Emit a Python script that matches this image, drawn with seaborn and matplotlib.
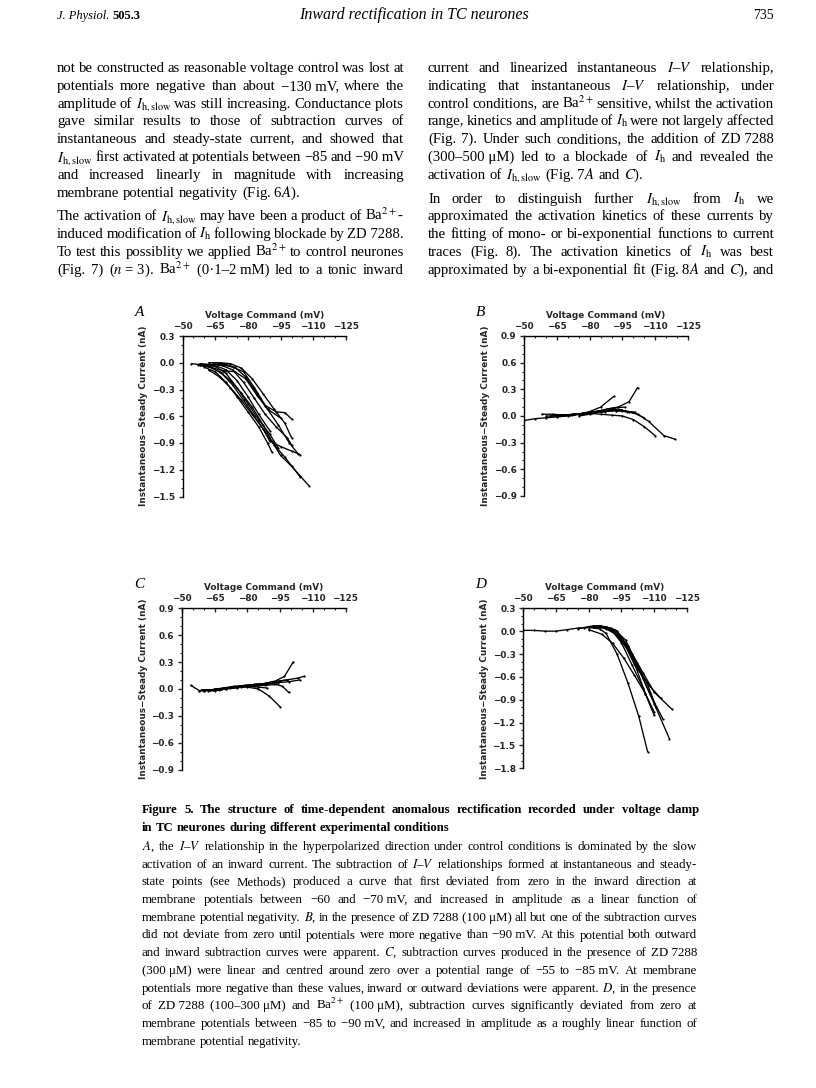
import matplotlib
matplotlib.use("Agg")
import matplotlib.pyplot as plt
import numpy as np
import pandas as pd
import seaborn as sns

W, H = 816, 1088

# ---------------- panel data (voltage command mV, inst - steady current nA) ----------------
A_V = [
    [-57, -62, -67, -72, -77, -82, -87, -91, -95, -100, -104, -108],
    [-58, -63, -68, -73, -78, -83, -88, -92, -97, -104],
    [-60, -65, -70, -75, -80, -85, -89, -91],
    [-62, -67, -72, -77, -82, -87, -90, -95, -100, -104],
    [-58, -63, -68, -73, -78, -83, -88, -93, -97, -100],
    [-62, -67, -72, -77, -82, -87, -92, -97, -100],
    [-63, -68, -73, -78, -83, -88, -93, -98, -100],
    [-60, -65, -70, -75, -80, -85, -90, -94],
    [-59, -64, -69, -74, -79, -84, -89, -95],
    [-54, -58, -62, -66, -70, -75, -80, -85, -90],
    [-64, -69, -74, -79, -84, -89, -94, -99, -103],
]
A_I = [
    [-0.02, -0.04, -0.10, -0.20, -0.34, -0.50, -0.70, -0.88, -1.04, -1.16, -1.27, -1.38],
    [-0.03, -0.05, -0.12, -0.25, -0.42, -0.60, -0.78, -0.92, -1.06, -1.28],
    [-0.05, -0.10, -0.22, -0.38, -0.55, -0.72, -0.90, -1.00],
    [-0.08, -0.16, -0.28, -0.42, -0.58, -0.74, -0.88, -0.94, -0.99, -1.03],
    [-0.01, -0.02, -0.02, -0.05, -0.10, -0.28, -0.48, -0.55, -0.56, -0.63],
    [0.00, 0.00, -0.01, -0.06, -0.18, -0.35, -0.52, -0.68, -0.84],
    [-0.02, -0.03, -0.08, -0.22, -0.40, -0.58, -0.72, -0.84, -0.92],
    [-0.02, -0.04, -0.12, -0.28, -0.46, -0.64, -0.80, -0.96],
    [-0.03, -0.06, -0.09, -0.10, -0.18, -0.36, -0.52, -0.62],
    [-0.01, -0.02, -0.03, -0.04, -0.08, -0.20, -0.38, -0.58, -0.76],
    [0.00, -0.01, -0.05, -0.16, -0.34, -0.52, -0.70, -0.90, -1.02],
]

B_V = [
    [-50, -55, -60, -65, -70, -75, -80, -85, -91],
    [-58, -63, -68, -73, -78, -83, -88, -93, -98, -102],
    [-60, -65, -70, -75, -80, -85, -90, -95, -100, -105, -110],
    [-62, -67, -72, -77, -82, -87, -92, -97, -102, -107, -114, -119],
    [-65, -70, -75, -80, -85, -90, -95, -100, -105],
    [-68, -73, -78, -83, -88, -93, -98, -101],
    [-72, -77, -82, -87, -92, -96],
    [-75, -80, -85, -90, -95],
    [-66, -71, -76, -81, -86, -91, -96],
]
B_I = [
    [-0.05, -0.03, -0.02, -0.01, 0.00, 0.02, 0.05, 0.10, 0.22],
    [0.02, 0.02, 0.01, 0.02, 0.03, 0.05, 0.08, 0.10, 0.16, 0.32],
    [0.00, 0.00, 0.01, 0.02, 0.03, 0.02, 0.01, 0.00, -0.04, -0.12, -0.22],
    [0.00, 0.01, 0.01, 0.03, 0.05, 0.06, 0.06, 0.05, 0.02, -0.06, -0.22, -0.26],
    [0.00, 0.01, 0.02, 0.04, 0.06, 0.07, 0.06, 0.04, -0.02],
    [0.01, 0.02, 0.03, 0.05, 0.07, 0.07, 0.05, 0.04],
    [0.02, 0.03, 0.04, 0.05, 0.06, 0.06],
    [0.00, 0.02, 0.05, 0.08, 0.07],
    [0.01, 0.01, 0.02, 0.03, 0.06, 0.09, 0.10],
]

C_V = [
    [-54, -58, -63, -68, -73, -78, -83, -88, -93, -97, -101],
    [-58, -63, -68, -73, -78, -83, -88, -93, -98, -103, -106],
    [-60, -65, -70, -75, -80, -85, -90, -95],
    [-62, -67, -72, -77, -82, -87, -92, -96, -99],
    [-59, -64, -69, -74, -79, -84, -89, -94, -99, -104],
    [-63, -68, -73, -78, -83, -88, -93],
    [-65, -70, -75, -80, -85, -90, -95, -98],
    [-60, -65, -70, -75, -80, -85, -89],
]
C_I = [
    [0.04, -0.02, -0.01, 0.00, 0.02, 0.03, 0.04, 0.06, 0.09, 0.14, 0.30],
    [-0.02, -0.01, 0.00, 0.02, 0.03, 0.05, 0.06, 0.08, 0.10, 0.12, 0.14],
    [-0.02, -0.02, 0.00, 0.02, 0.02, 0.00, -0.08, -0.20],
    [-0.02, -0.01, 0.01, 0.02, 0.04, 0.05, 0.06, 0.03, -0.04],
    [-0.01, -0.01, 0.01, 0.03, 0.04, 0.05, 0.06, 0.07, 0.08, 0.10],
    [-0.01, 0.00, 0.02, 0.03, 0.03, 0.04, 0.05],
    [0.00, 0.01, 0.02, 0.04, 0.05, 0.07, 0.09, 0.10],
    [-0.02, -0.01, 0.00, 0.01, 0.03, 0.02, 0.01],
]

D_V = [
    [-50, -55, -60, -65, -70, -75, -80, -85, -88, -93, -98, -103, -107],
    [-75, -80, -85, -90, -95, -100, -105, -110],
    [-78, -83, -88, -93, -98, -103, -108, -114],
    [-80, -85, -90, -95, -100, -105, -110, -117],
    [-80, -85, -90, -95, -100, -105, -110, -118],
    [-82, -87, -92, -97, -102, -106, -109],
    [-83, -88, -93, -98, -103, -108, -113],
    [-80, -86, -91, -96, -101, -106, -110],
    [-82, -87, -92, -97, -102, -107, -111],
]
D_I = [
    [0.01, 0.01, 0.00, 0.00, 0.02, 0.04, 0.05, 0.03, -0.03, -0.30, -0.68, -1.12, -1.58],
    [0.03, 0.06, 0.07, 0.03, -0.15, -0.45, -0.75, -1.10],
    [0.04, 0.06, 0.06, 0.00, -0.20, -0.50, -0.82, -1.15],
    [0.05, 0.07, 0.04, -0.08, -0.32, -0.62, -0.95, -1.41],
    [0.06, 0.07, 0.03, -0.10, -0.30, -0.55, -0.80, -1.02],
    [0.05, 0.05, -0.02, -0.20, -0.50, -0.82, -1.02],
    [0.06, 0.03, -0.05, -0.25, -0.52, -0.72, -0.88],
    [0.02, -0.04, -0.16, -0.35, -0.58, -0.82, -1.06],
    [0.07, 0.06, 0.02, -0.12, -0.42, -0.70, -1.00],
]

X_TICKS = [-50, -65, -80, -95, -110, -125]
A_YTICKS = [0.3, 0.0, -0.3, -0.6, -0.9, -1.2, -1.5]
B_YTICKS = [0.9, 0.6, 0.3, 0.0, -0.3, -0.6, -0.9]
C_YTICKS = [0.9, 0.6, 0.3, 0.0, -0.3, -0.6, -0.9]
D_YTICKS = [0.3, 0.0, -0.3, -0.6, -0.9, -1.2, -1.5, -1.8]

# ---------------- page text ----------------
# mathtext pieces (no spaces inside, lines are split on spaces)
IHS = "$I_{\\mathrm{h,slow}}$"
IH = "$I_{\\mathrm{h}}$"
BA = "Ba$^{2+}$"
IV = "$I$\u2013$V$"

LEFT_COL = [
    "not be constructed as reasonable voltage control was lost at",
    "potentials more negative than about \u2212130\u00a0mV, where the",
    "amplitude of " + IHS + " was still increasing. Conductance plots",
    "gave similar results to those of subtraction curves of",
    "instantaneous and steady-state current, and showed that",
    IHS + " first activated at potentials between \u221285 and \u221290\u00a0mV",
    "and increased linearly in magnitude with increasing",
    "membrane potential negativity (Fig.\u00a06$A$).",
    "The activation of " + IHS + " may have been a product of " + BA + "-",
    "induced modification of " + IH + " following blockade by ZD\u00a07288.",
    "To test this possiblity we applied " + BA + " to control neurones",
    "(Fig. 7) ($n$\u00a0=\u00a03). " + BA + " (0\u00b71\u20132\u00a0mM) led to a tonic inward",
]
RIGHT_COL = [
    "current and linearized instantaneous " + IV + " relationship,",
    "indicating that instantaneous " + IV + " relationship, under",
    "control conditions, are " + BA + " sensitive, whilst the activation",
    "range, kinetics and amplitude of " + IH + " were not largely affected",
    "(Fig. 7). Under such conditions, the addition of ZD\u00a07288",
    "(300\u2013500\u00a0\u03bcM) led to a blockade of " + IH + " and revealed the",
    "activation of " + IHS + " (Fig.\u00a07$A$ and $C$).",
    "In order to distinguish further " + IHS + " from " + IH + " we",
    "approximated the activation kinetics of these currents by",
    "the fitting of mono- or bi-exponential functions to current",
    "traces (Fig. 8). The activation kinetics of " + IH + " was best",
    "approximated by a bi-exponential fit (Fig.\u00a08$A$ and $C$), and",
]
CAPTION_TITLE = [
    "Figure 5. The structure of time-dependent anomalous rectification recorded under voltage clamp",
    "in TC neurones during different experimental conditions",
]
CAPTION = [
    "$A$, the " + IV + " relationship in the hyperpolarized direction under control conditions is dominated by the slow",
    "activation of an inward current. The subtraction of " + IV + " relationships formed at instantaneous and steady-",
    "state points (see Methods) produced a curve that first deviated from zero in the inward direction at",
    "membrane potentials between \u221260 and \u221270\u00a0mV, and increased in amplitude as a linear function of",
    "membrane potential negativity. $B$, in the presence of ZD\u00a07288 (100\u00a0\u03bcM) all but one of the subtraction curves",
    "did not deviate from zero until potentials were more negative than \u221290\u00a0mV. At this potential both outward",
    "and inward subtraction curves were apparent. $C$, subtraction curves produced in the presence of ZD\u00a07288",
    "(300\u00a0\u03bcM) were linear and centred around zero over a potential range of \u221255 to \u221285\u00a0mV. At membrane",
    "potentials more negative than these values, inward or outward deviations were apparent. $D$, in the presence",
    "of ZD\u00a07288 (100\u2013300\u00a0\u03bcM) and " + BA + " (100\u00a0\u03bcM), subtraction curves significantly deviated from zero at",
    "membrane potentials between \u221285 to \u221290\u00a0mV, and increased in amplitude as a roughly linear function of",
    "membrane potential negativity.",
]

sns.set_style("ticks")
plt.rcParams["font.family"] = ["DejaVu Sans"]
plt.rcParams["mathtext.fontset"] = "stix"

fig = plt.figure(figsize=(W / 100, H / 100), dpi=100)
renderer = fig.canvas.get_renderer()


def fx(x):
    return x / W


def fy(y):
    return 1 - y / H


def text_width(s, **kw):
    t = fig.text(0, 0, s, **kw)
    w = t.get_window_extent(renderer).width
    t.remove()
    return w


def put_line(text, x0, x1, y, justify=True, fontsize=10, **kw):
    words = text.split(" ")
    size = fontsize
    while True:
        widths = [text_width(w, fontsize=size, **kw) for w in words]
        space = text_width("x x", fontsize=size, **kw) - text_width("xx", fontsize=size, **kw)
        gap = space
        if justify and len(words) > 1:
            gap = (x1 - x0 - sum(widths)) / (len(words) - 1)
            if gap < 0.6 * space and size > 6:
                size -= 0.2
                continue
        break
    x = x0
    for w, wd in zip(words, widths):
        fig.text(fx(x), fy(y), w, ha="left", va="baseline", fontsize=size, **kw)
        x += wd + gap


serif = dict(family="Liberation Serif", color="black")

# header
fig.text(fx(57), fy(19), "J. Physiol.", style="italic", fontsize=9, ha="left", va="baseline", **serif)
jw = text_width("J. Physiol.", style="italic", fontsize=9, **serif)
fig.text(fx(57 + jw + 3), fy(19), "505.3", weight="bold", fontsize=9, ha="left", va="baseline", **serif)
fig.text(fx(414), fy(19), "Inward rectification in TC neurones", style="italic", fontsize=11.5,
         ha="center", va="baseline", **serif)
fig.text(fx(774), fy(19), "735", fontsize=10, ha="right", va="baseline", **serif)

# two text columns
for k, line in enumerate(LEFT_COL):
    y = 72 + 17.8 * k + (6 if k >= 8 else 0)
    put_line(line, 57, 404, y, justify=(k != 7), fontsize=10.6, **serif)
for k, line in enumerate(RIGHT_COL):
    y = 72 + 17.8 * k + (6 if k >= 7 else 0)
    put_line(line, 428, 774, y, justify=(k != 6), fontsize=10.6, **serif)

# caption
put_line(CAPTION_TITLE[0], 142, 700, 813, justify=True, fontsize=9.2, weight="bold", **serif)
put_line(CAPTION_TITLE[1], 142, 700, 831, justify=False, fontsize=9.2, weight="bold", **serif)
for k, line in enumerate(CAPTION):
    put_line(line, 142, 697, 850 + 17.7 * k, justify=(k != len(CAPTION) - 1), fontsize=9.3, **serif)

# ---------------- the four panels ----------------
panels = [
    ("A", A_V, A_I, (-1.5, 0.3), A_YTICKS, 182.5, 336, 496.5),
    ("B", B_V, B_I, (-0.9, 0.9), B_YTICKS, 524.3, 336, 496.0),
    ("C", C_V, C_I, (-0.9, 0.9), C_YTICKS, 182.0, 608.3, 769.5),
    ("D", D_V, D_I, (-1.8, 0.3), D_YTICKS, 523.3, 608.3, 768.3),
]
axis_font = dict(fontsize=6.4, fontweight="bold", family="DejaVu Sans")

for letter, volts, amps, ylim, yticks, left, top, bottom in panels:
    ax = fig.add_axes([fx(left), fy(bottom), 163.5 / W, (bottom - top) / H])
    rows = []
    for t, (vs, cs) in enumerate(zip(volts, amps)):
        for v, c in zip(vs, cs):
            rows.append({"trace": t, "voltage": v, "current": c})
    df = pd.DataFrame(rows)
    sns.lineplot(data=df, x="voltage", y="current", units="trace", estimator=None,
                 sort=False, color="black", lw=0.95, marker="o", markersize=1.6,
                 markeredgewidth=0, ax=ax, legend=False)

    ax.set_xlim(-50, -125)
    ax.set_ylim(*ylim)
    ax.xaxis.set_ticks_position("top")
    ax.xaxis.set_label_position("top")
    ax.spines["bottom"].set_visible(False)
    ax.spines["right"].set_visible(False)
    for s in ("top", "left"):
        ax.spines[s].set_linewidth(1.0)
        ax.spines[s].set_color("black")
    ax.set_xticks(X_TICKS)
    ax.set_xticks(np.arange(-55, -125, -5), minor=True)
    ax.set_xticklabels([f"{v}".replace("-", "\u2212") for v in X_TICKS], **axis_font)
    ax.set_yticks(yticks)
    ax.set_yticks(np.arange(ylim[0], ylim[1] + 0.01, 0.1), minor=True)
    ax.set_yticklabels([f"{v:.1f}".replace("-", "\u2212") for v in yticks], **axis_font)
    ax.tick_params(axis="x", which="major", direction="in", length=3, width=1.0, pad=3.5)
    ax.tick_params(axis="x", which="minor", direction="in", length=1.6, width=0.8)
    ax.tick_params(axis="y", which="major", direction="out", length=3, width=1.0, pad=2.5)
    ax.tick_params(axis="y", which="minor", direction="out", length=1.6, width=0.8)
    ax.set_xlabel("Voltage Command (mV)", labelpad=3, **axis_font)
    ax.set_ylabel("Instantaneous\u2212Steady Current (nA)", labelpad=2.5, **axis_font)

    fig.text(fx(left - 48), fy(top - 24), letter, style="italic", fontsize=11,
             ha="left", va="center", **serif)

fig.savefig("out.png", dpi=100, facecolor="white")
